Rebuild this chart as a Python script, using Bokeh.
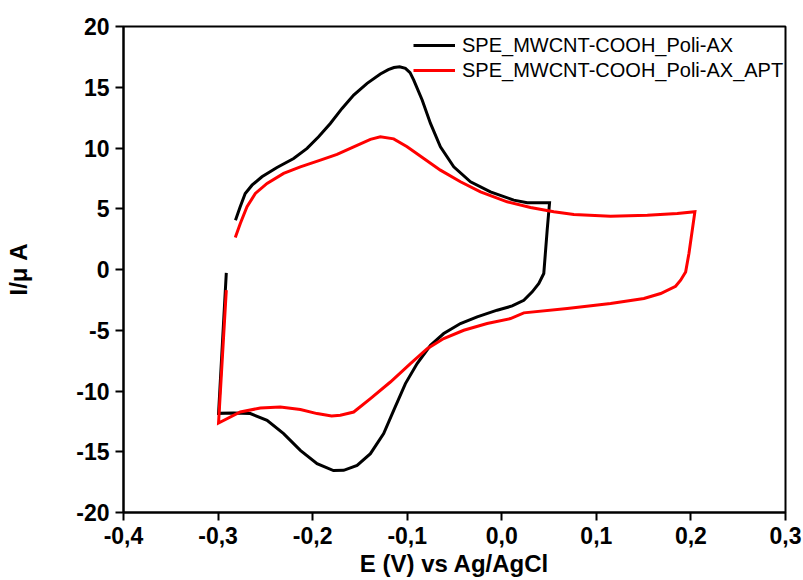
from bokeh.plotting import figure
from bokeh.models import Range1d, FixedTicker, Legend, LegendItem
from bokeh.embed import file_html
from bokeh.resources import INLINE

# ---- data ----
black_label = "SPE_MWCNT-COOH_Poli-AX"
red_label = "SPE_MWCNT-COOH_Poli-AX_APT"

black_x = [-0.2816, -0.2766, -0.2713, -0.2641, -0.2536, -0.2377, -0.2201, -0.2059, -0.1937,
           -0.1813, -0.1689, -0.1566, -0.1424, -0.1284, -0.1200, -0.1140, -0.1080, -0.1019, -0.0970,
           -0.0931, -0.0842, -0.0754, -0.0649, -0.0508, -0.0331, -0.0120, 0.0127, 0.0269, 0.0505,
           0.0480, 0.0444, 0.0392, 0.0322, 0.0233, 0.0110, -0.0049, -0.0260, -0.0437,
           -0.0614, -0.0754, -0.0895, -0.1019, -0.1143, -0.1249, -0.1389, -0.1530, -0.1672,
           -0.1780, -0.1953, -0.2130, -0.2307, -0.2482, -0.2659, -0.2836, -0.2995, -0.2913]
black_y = [4.06, 5.16, 6.26, 6.94, 7.63, 8.40, 9.14, 9.97, 10.92,
           12.02, 13.26, 14.36, 15.32, 16.09, 16.45, 16.62, 16.69, 16.55, 16.20,
           15.59, 13.95, 12.02, 10.10, 8.45, 7.22, 6.39, 5.71, 5.49, 5.49,
           3.24, -0.33, -1.15, -1.84, -2.53, -3.00, -3.35, -3.90, -4.45,
           -5.27, -6.24, -7.74, -9.39, -11.59, -13.51, -15.16, -16.12, -16.53,
           -16.55, -15.98, -14.89, -13.51, -12.41, -11.86, -11.81, -11.84, -0.28]

red_x = [-0.2818, -0.2765, -0.2694, -0.2606, -0.2482, -0.2307, -0.2130, -0.1918, -0.1742,
         -0.1566, -0.1389, -0.1284, -0.1143, -0.1001, -0.0825, -0.0649, -0.0437, -0.0225,
         0.0057, 0.0304, 0.0550, 0.0762, 0.1150, 0.1539, 0.1856, 0.2042,
         0.1979, 0.1944, 0.1891, 0.1838, 0.1680, 0.1503, 0.1150, 0.0692, 0.0233,
         0.0092, -0.0155, -0.0402, -0.0614, -0.0789, -0.0966, -0.1178, -0.1389, -0.1566,
         -0.1707, -0.1800, -0.1953, -0.2130, -0.2342, -0.2553, -0.2765, -0.2995, -0.2913]
red_y = [2.64, 3.79, 5.16, 6.26, 7.08, 7.91, 8.45, 9.00, 9.47,
         10.10, 10.71, 10.92, 10.75, 10.10, 9.14, 8.18, 7.22, 6.39,
         5.57, 5.11, 4.75, 4.53, 4.39, 4.47, 4.61, 4.75,
         1.32, -0.20, -0.88, -1.38, -1.98, -2.39, -2.80, -3.21, -3.57,
         -4.04, -4.45, -5.00, -5.68, -6.51, -7.74, -9.26, -10.63, -11.73,
         -12.00, -12.06, -11.86, -11.53, -11.32, -11.40, -11.73, -12.64, -1.70]

x_ticks = [-0.4, -0.3, -0.2, -0.1, 0.0, 0.1, 0.2, 0.3]
x_tick_labels = ["-0,4", "-0,3", "-0,2", "-0,1", "0,0", "0,1", "0,2", "0,3"]
y_ticks = [-20, -15, -10, -5, 0, 5, 10, 15, 20]
y_tick_labels = ["-20", "-15", "-10", "-5", "0", "5", "10", "15", "20"]

x_title = "E (V) vs Ag/AgCl"
y_title = "I/\u03bc A"

FONT = "Liberation Sans"

p = figure(width=803, height=580, output_backend="svg", toolbar_location=None,
           x_range=Range1d(-0.4, 0.3), y_range=Range1d(-20, 20),
           min_border_left=123, min_border_right=18, min_border_top=26, min_border_bottom=68)

p.background_fill_color = "white"
p.border_fill_color = "white"
p.outline_line_color = "black"
p.outline_line_width = 2
p.grid.visible = False

l1 = p.line(black_x, black_y, line_color="black", line_width=3, line_join="miter")
l2 = p.line(red_x, red_y, line_color="#ff0000", line_width=3, line_join="miter")

for ax, ticks, labels in ((p.xaxis[0], x_ticks, x_tick_labels), (p.yaxis[0], y_ticks, y_tick_labels)):
    ax.ticker = FixedTicker(ticks=ticks)
    ax.major_label_overrides = {t: s for t, s in zip(ticks, labels)}
    ax.minor_tick_line_color = None
    ax.major_tick_in = 0
    ax.major_tick_out = 8
    ax.major_tick_line_width = 2
    ax.major_tick_line_color = "black"
    ax.axis_line_width = 2
    ax.axis_line_color = "black"
    ax.major_label_text_font = FONT
    ax.major_label_text_font_style = "bold"
    ax.major_label_text_font_size = "23px"
    ax.major_label_text_color = "black"
    ax.axis_label_text_font = FONT
    ax.axis_label_text_font_style = "bold"
    ax.axis_label_text_font_size = "24px"
    ax.axis_label_text_color = "black"

p.xaxis[0].axis_label = x_title
p.yaxis[0].axis_label = y_title
p.xaxis[0].major_label_standoff = 6
p.xaxis[0].axis_label_standoff = 3
p.yaxis[0].major_label_standoff = 6
p.yaxis[0].axis_label_standoff = 41

legend = Legend(items=[LegendItem(label=black_label, renderers=[l1]),
                       LegendItem(label=red_label, renderers=[l2])],
                location=(290, 430))
legend.margin = 0
legend.padding = 5
legend.spacing = 1
legend.label_standoff = 7
legend.glyph_width = 42
legend.glyph_height = 24
legend.label_height = 24
legend.label_text_font = FONT
legend.label_text_font_size = "20px"
legend.label_text_color = "black"
legend.border_line_color = None
legend.background_fill_alpha = 0
p.add_layout(legend)

open("out.html", "w").write(file_html(p, INLINE))
